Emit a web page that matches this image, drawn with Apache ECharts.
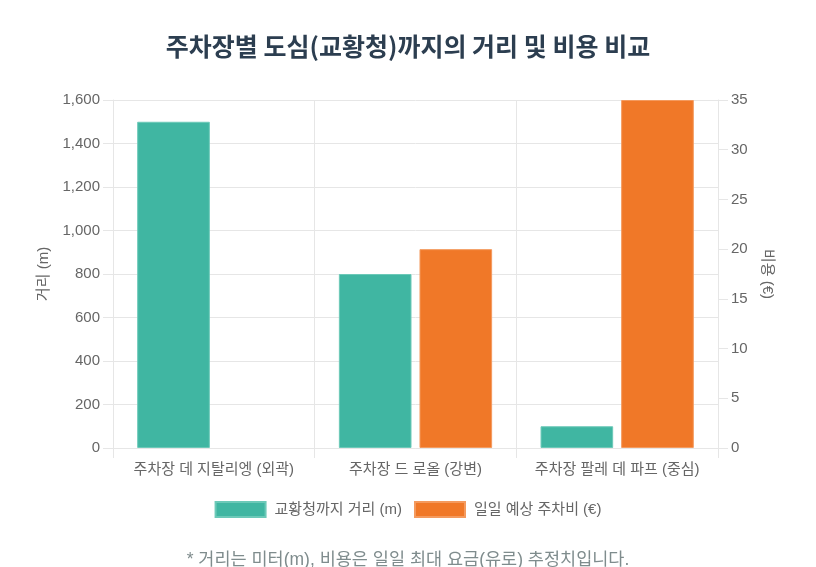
<!DOCTYPE html>
<html>
<head>
<meta charset="utf-8">
<script src="https://cdn.jsdelivr.net/npm/echarts@6/dist/echarts.min.js"></script>
<style>
  html, body { margin: 0; padding: 0; background: #fff; }
  #chart { width: 816px; height: 567px; }
</style>
</head>
<body>
<div id="chart"></div>
<script>
const categories = ["주차장 데 지탈리엥 (외곽)", "주차장 드 로올 (강변)", "주차장 팔레 데 파프 (중심)"];
const distances = [1500, 800, 100];
const costs = [null, 20, 35];
const seriesNames = ["교황청까지 거리 (m)", "일일 예상 주차비 (€)"];

const font = "'Liberation Sans', 'Noto Sans CJK KR', sans-serif";
const gridColor = "#e6e6e6";
const labelColor = "#666";

const chart = echarts.init(document.getElementById("chart"));

chart.setOption({
    textStyle: { fontFamily: font },
    title: [
        {
            text: "주차장별 도심(교황청)까지의 거리 및 비용 비교",
            left: "center",
            top: 29,
            textStyle: { fontSize: 25, fontWeight: "bold", color: "#2c3e50", fontFamily: "'Noto Sans CJK KR', sans-serif" },
        },
        {
            text: "* 거리는 미터(m), 비용은 일일 최대 요금(유로) 추정치입니다.",
            left: "center",
            top: 546,
            textStyle: { fontSize: 17.5, fontWeight: "normal", color: "#7f8c8d", fontFamily: font },
        },
    ],
    legend: {
        top: 496,
        left: "center",
        itemWidth: 50,
        itemHeight: 15,
        itemGap: 12,
        icon: "rect",
        textStyle: { color: labelColor, fontSize: 15, fontFamily: font, padding: [0, 0, 0, 4] },
        data: seriesNames,
    },
    grid: { left: 113, right: 98, top: 100, bottom: 119 },
    xAxis: {
        type: "category",
        data: categories,
        axisLine: { lineStyle: { color: gridColor } },
        axisTick: { show: true, interval: 0, length: 10, lineStyle: { color: gridColor } },
        splitLine: { show: true, interval: 0, lineStyle: { color: gridColor } },
        axisLabel: { color: labelColor, fontSize: 15, margin: 14, interval: 0 },
    },
    yAxis: [
        {
            type: "value",
            min: 0,
            max: 1600,
            interval: 200,
            name: "거리 (m)",
            nameLocation: "middle",
            nameGap: 62,
            nameTextStyle: { color: labelColor, fontSize: 15 },
            axisLine: { show: true, lineStyle: { color: gridColor } },
            axisTick: { show: true, length: 10, lineStyle: { color: gridColor } },
            splitLine: { lineStyle: { color: gridColor } },
            axisLabel: { color: labelColor, fontSize: 15, margin: 13 },
        },
        {
            type: "value",
            min: 0,
            max: 35,
            interval: 5,
            name: "비용 (€)",
            nameLocation: "middle",
            nameRotate: -90,
            nameGap: 42,
            nameTextStyle: { color: labelColor, fontSize: 15 },
            axisLine: { show: true, lineStyle: { color: gridColor } },
            axisTick: { show: true, length: 10, lineStyle: { color: gridColor } },
            splitLine: { show: false },
            axisLabel: { color: labelColor, fontSize: 15, margin: 13 },
        },
    ],
    series: [
        {
            name: seriesNames[0],
            type: "bar",
            yAxisIndex: 0,
            data: distances,
            barCategoryGap: "24%",
            barGap: "11%",
            itemStyle: { color: "#40b6a2", borderColor: "#6cc9b8", borderWidth: 1 },
        },
        {
            name: seriesNames[1],
            type: "bar",
            yAxisIndex: 1,
            data: costs,
            barCategoryGap: "24%",
            barGap: "11%",
            itemStyle: { color: "#f07828", borderColor: "#f49a5e", borderWidth: 1 },
        },
    ],
});
</script>
</body>
</html>
